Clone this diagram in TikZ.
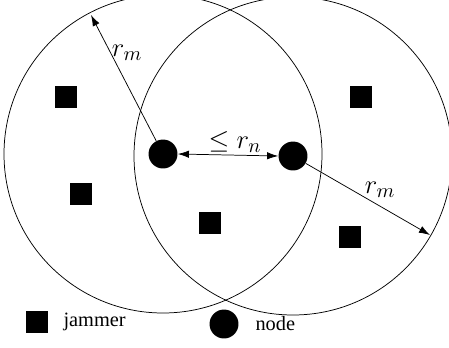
\documentclass[tikz,border=0pt]{standalone}
\usepackage{fontspec}
\setmainfont{Liberation Serif}
\usetikzlibrary{arrows.meta}
\begin{document}
\begin{tikzpicture}[x=0.019cm,y=0.019cm,>={Latex[length=6pt,width=4pt]},
  jam/.style={rectangle,fill=black,minimum size=0.42cm,inner sep=0pt},
  dev/.style={circle,fill=black,minimum size=0.55cm,inner sep=0pt},
  lbl/.style={font=\fontsize{15}{17}\selectfont},
  txt/.style={anchor=west,font=\fontsize{11}{13}\selectfont}]
\useasboundingbox (0,0) rectangle (449,347);
\node[dev] (nl) at (163,193) {};
\node[dev] (nr) at (293,191) {};

\draw (nl) circle (159);
\draw (nr) circle (159);

\node[jam] (j1) at (66,250) {};
\node[jam] (j2) at (81,153) {};
\node[jam] (j3) at (210,124) {};
\node[jam] (j4) at (361,250) {};
\node[jam] (j5) at (350,110) {};

\coordinate (tl) at (91,332);
\coordinate (br) at (430,112);
\draw[->] (nl) -- (tl);
\draw[->] (nr) -- (br);
\draw[<->] (nl.east) -- (nr.west);

\node[lbl] (rm1) at (127,294) {$r_m$};
\node[lbl] (rm2) at (380,157) {$r_m$};
\node[lbl] (rn) at (235,205) {$\leq r_n$};

% legend
\node[jam] (lj) at (37,25) {};
\node[txt] (tj) at (57,25) {jammer};
\node[dev] (ln) at (224,23) {};
\node[txt] (tn) at (249,23) {node};
\end{tikzpicture}
\end{document}
